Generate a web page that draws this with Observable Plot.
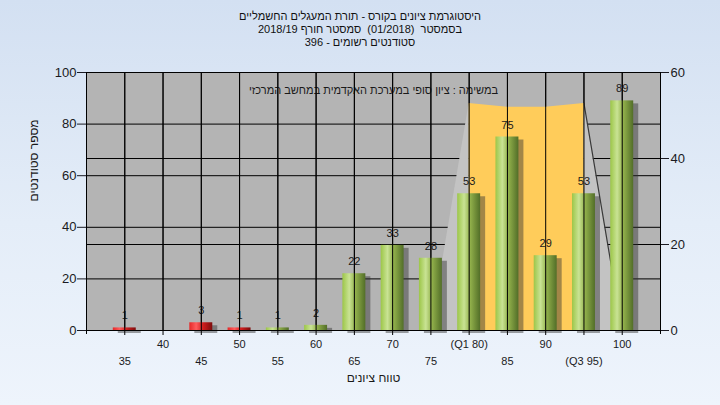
<!DOCTYPE html>
<html>
<head>
<meta charset="utf-8">
<script src="https://cdn.jsdelivr.net/npm/d3@7"></script>
<script src="https://cdn.jsdelivr.net/npm/@observablehq/plot@0.6"></script>
<style>
  html, body { margin: 0; padding: 0; }
  #wrap { position: relative; width: 720px; height: 405px; overflow: hidden;
    background: linear-gradient(to bottom, #d3e0f2 0%, #e4edf8 55%, #eef4fc 100%);
    font-family: "Liberation Sans", Arial, sans-serif; }
  #title { position: absolute; top: 10px; left: 0; width: 720px; text-align: center;
    font-size: 11px; line-height: 13px; color: #111; direction: rtl; white-space: pre; }
  #chart { position: absolute; left: 0; top: 0; }
</style>
</head>
<body>
<div id="wrap">
  <div id="chart"></div>
  <div id="title"></div>
</div>
<script>
// ---- data ----
const titleLines = [
  "היסטוגרמת ציונים בקורס - תורת המעגלים החשמליים",
  "בסמסטר  (01/2018)  סמסטר חורף 2018/19",
  "סטודנטים רשומים - 396"
];
const note = "במשימה : ציון סופי במערכת האקדמית במחשב המרכזי";
const yLabel = "מספר סטודנטים";
const xLabel = "טווח ציונים";

const grades = [35, 45, 50, 55, 60, 65, 70, 75, 80, 85, 90, 95, 100];
const counts = [1, 3, 1, 1, 2, 22, 33, 28, 53, 75, 29, 53, 89];
const passGrade = 55;

const xTicks = [35, 40, 45, 50, 55, 60, 65, 70, 75, 80, 85, 90, 95, 100];
const xTickLabels = ["35", "40", "45", "50", "55", "60", "65", "70", "75", "(Q1 80)", "85", "90", "(Q3 95)", "100"];
const leftTicks = [0, 20, 40, 60, 80, 100];
const rightTicks = [0, 20, 40, 60];
const rightMax = 60;
const leftMax = 100;

// quartile band (Q1..Q3) and its perspective wedges
const bandX = [80, 85, 90, 95];
const bandTop = [88, 86.5, 86.5, 88];
const wedgeLeftX = [75, 80];
const wedgeLeftY = [0, 88];
const wedgeRightX = [95, 100];
const wedgeRightY = [88, 0];

// ---- build ----
document.getElementById("title").innerHTML = titleLines.map(t => `<div>${t}</div>`).join("");

const bars = grades.map((g, i) => ({grade: g, count: counts[i], pass: g >= passGrade}));
const band = bandX.map((x, i) => ({x, y: bandTop[i]}));
const wl = wedgeLeftX.map((x, i) => ({x, y: wedgeLeftY[i]}));
const wr = wedgeRightX.map((x, i) => ({x, y: wedgeRightY[i]}));
const tickLabel = new Map(xTicks.map((t, i) => [t, xTickLabels[i]]));
const upper = xTicks.filter((t, i) => i % 2 === 1);
const lower = xTicks.filter((t, i) => i % 2 === 0);
const toLeft = v => v / rightMax * leftMax;
const halfW = 1.5;

const plot = Plot.plot({
  width: 720,
  height: 405,
  marginTop: 72,
  marginBottom: 75,
  marginLeft: 86,
  marginRight: 60,
  style: {background: "transparent", fontFamily: "'Liberation Sans', Arial, sans-serif", color: "#1a1a22", overflow: "visible"},
  x: {domain: [30, 105], axis: null},
  y: {domain: [0, 100], axis: null},
  marks: [
    Plot.frame({fill: "#b4b4b4", stroke: null}),
    Plot.gridX(xTicks, {stroke: "#000", strokeOpacity: 1}),
    Plot.gridY(leftTicks, {stroke: "#000", strokeOpacity: 1}),
    Plot.gridY(rightTicks.map(toLeft), {stroke: "#000", strokeOpacity: 1}),
    Plot.areaY(wl, {x: "x", y: "y", fill: "#c3c3c3"}),
    Plot.areaY(wr, {x: "x", y: "y", fill: "#c3c3c3"}),
    Plot.line(wr, {x: "x", y: "y", stroke: "#3a3a3a", strokeWidth: 1.2}),
    Plot.areaY(band, {x: "x", y: "y", fill: "#ffcc5a"}),
    Plot.rectY(bars, {x1: d => d.grade - halfW, x2: d => d.grade + halfW, y: "count",
      fill: "#303030", fillOpacity: 0.45, dx: 5, dy: 3, ariaLabel: "shadow"}),
    Plot.rectY(bars, {x1: d => d.grade - halfW, x2: d => d.grade + halfW, y: "count",
      fill: d => d.pass ? "url(#gGreen)" : "url(#gRed)"}),
    Plot.text(bars, {x: "grade", y: "count", text: d => String(d.count), dy: -12, fontSize: 11, fill: "#1a1a1a"}),
    Plot.text([note], {frameAnchor: "top", dy: 14, fontSize: 11, fill: "#1a1a1a"}),
    Plot.ruleX([30], {insetBottom: -4, stroke: "#000"}),
    Plot.ruleX([105], {insetBottom: -4, stroke: "#000"}),
    Plot.ruleY([0], {stroke: "#000"}),
    Plot.tickX(xTicks, {x: d => d, y1: 0, y2: 0, insetBottom: -5, stroke: "#000"}),
    Plot.axisY(leftTicks, {anchor: "left", tickSize: 9, tickPadding: 1, fontSize: 13, label: null}),
    Plot.axisY(rightTicks.map(toLeft), {anchor: "right", tickSize: 8, tickPadding: 2, fontSize: 13, label: null,
      tickFormat: d => String(Math.round(d / leftMax * rightMax))}),
    Plot.axisX(upper, {anchor: "bottom", tickSize: 0, tickPadding: 10, fontSize: 11, label: null,
      tickFormat: d => tickLabel.get(d)}),
    Plot.axisX(lower, {anchor: "bottom", tickSize: 0, tickPadding: 27, fontSize: 11, label: null,
      tickFormat: d => tickLabel.get(d)}),
    Plot.text([yLabel], {frameAnchor: "left", rotate: -90, dx: -52, fontSize: 12, fill: "#1a1a1a"}),
    Plot.text([xLabel], {frameAnchor: "bottom", dy: 51, fontSize: 12, fill: "#1a1a1a"})
  ]
});

// gradients and shadow blur
const svg = d3.select(plot);
const defs = svg.insert("defs", ":first-child");
const g1 = defs.append("linearGradient").attr("id", "gGreen").attr("x1", 0).attr("x2", 1).attr("y1", 0).attr("y2", 0);
[["0%", "#9cc648"], ["30%", "#c9e394"], ["55%", "#94b34c"], ["100%", "#526e28"]]
  .forEach(([o, c]) => g1.append("stop").attr("offset", o).attr("stop-color", c));
const g2 = defs.append("linearGradient").attr("id", "gRed").attr("x1", 0).attr("x2", 1).attr("y1", 0).attr("y2", 0);
[["0%", "#e42828"], ["30%", "#ff5c5c"], ["60%", "#d01e1e"], ["100%", "#7c0c0c"]]
  .forEach(([o, c]) => g2.append("stop").attr("offset", o).attr("stop-color", c));
const f = defs.append("filter").attr("id", "blur").attr("x", "-50%").attr("y", "-50%").attr("width", "200%").attr("height", "200%");
f.append("feGaussianBlur").attr("stdDeviation", 2.5);
svg.selectAll('g[aria-label="shadow"]').attr("filter", "url(#blur)");

document.getElementById("chart").appendChild(plot);
</script>
</body>
</html>
